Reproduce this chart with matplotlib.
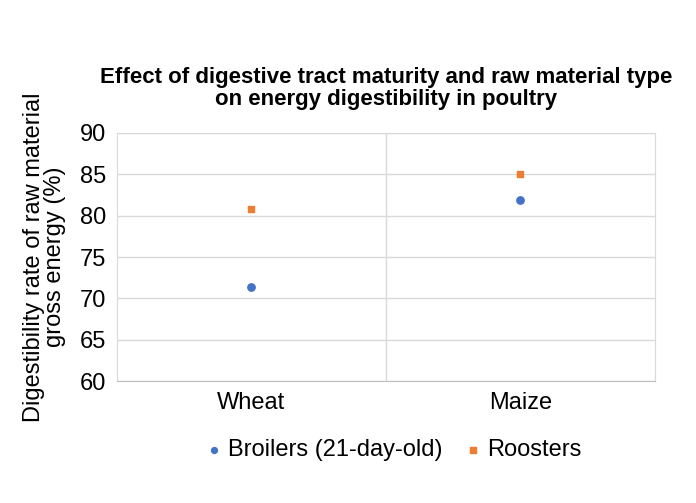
import matplotlib.pyplot as plt

categories = ['Wheat', 'Maize']
broilers = [71.4, 81.9]
roosters = [80.8, 85.0]
yticks = [60, 65, 70, 75, 80, 85, 90]

plt.rcParams['font.family'] = 'Liberation Sans'

fig = plt.figure(figsize=(6.96, 5.03), dpi=100)
ax = fig.add_axes([0.168, 0.2425, 0.773, 0.4931])

xpos = [i + 0.5 for i in range(len(categories))]
ax.scatter(xpos, broilers, color='#4472C4', marker='o', s=28, label='Broilers (21-day-old)', zorder=3)
ax.scatter(xpos, roosters, color='#ED7D31', marker='s', s=22, label='Roosters', zorder=3)

ax.set_xlim(0, len(categories))
ax.set_ylim(60, 90)
ax.set_yticks(yticks)
ax.set_xticks(xpos)
ax.set_xticklabels(categories)
ax.tick_params(length=0, labelsize=17, pad=8)
ax.grid(axis='y', color='#D9D9D9', linewidth=1)
for x in range(1, len(categories)):
  ax.axvline(x, color='#D9D9D9', linewidth=1)
for s in ax.spines.values():
  s.set_color('#D9D9D9')
ax.spines['bottom'].set_color('#BFBFBF')

ax.set_ylabel('Digestibility rate of raw material\ngross energy (%)', fontsize=17, linespacing=0.9, labelpad=10)
ax.set_title('Effect of digestive tract maturity and raw material type\non energy digestibility in poultry',
             fontsize=16, fontweight='bold', pad=20, linespacing=1.1)
ax.legend(loc='upper center', bbox_to_anchor=(0.5, -0.15), ncol=2, frameon=False,
          fontsize=17, handletextpad=-0.4, columnspacing=0.3, markerscale=0.8)

plt.savefig('out.png')
